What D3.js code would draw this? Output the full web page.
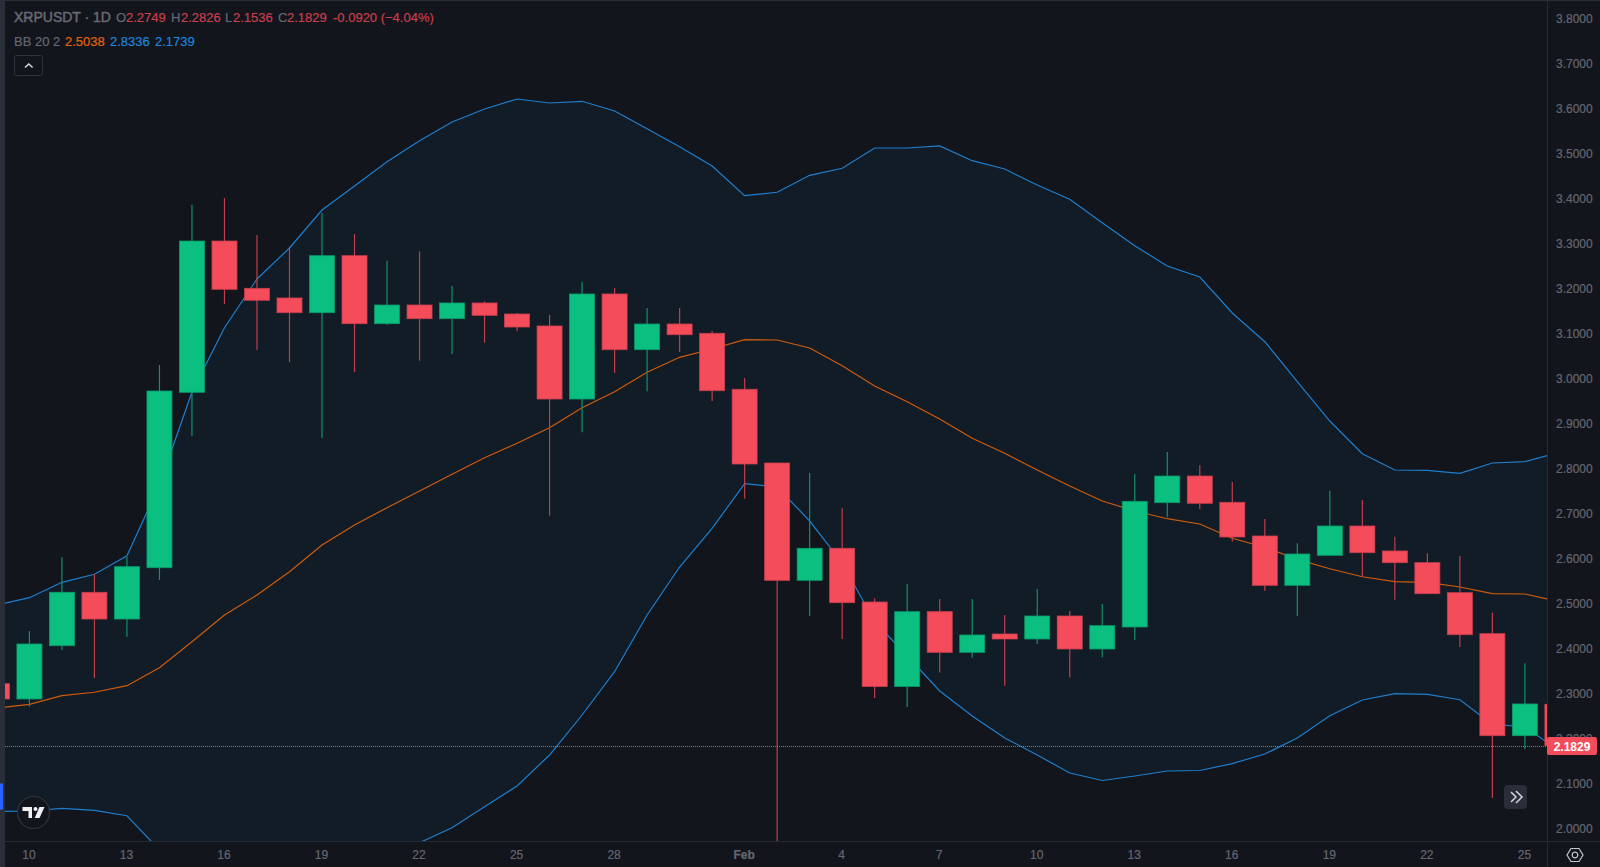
<!DOCTYPE html>
<html>
<head>
<meta charset="utf-8">
<script src="https://cdn.jsdelivr.net/npm/d3@7"></script>
<style>
    html, body { margin: 0; padding: 0; background: #12151c; overflow: hidden; }
    text { font-family: "Liberation Sans", Arial, sans-serif; }
</style>
</head>
<body>
<div id="chart"></div>
<script>
//<data>----------------------------------------//
var firstDay = "2025-01-09", lastDay = "2025-02-26";
var open_ = [2.3207, 2.2867, 2.4051, 2.5238, 2.4644, 2.5784, 2.9682, 3.3044, 3.1993, 3.1778, 3.1451, 3.2718, 3.1207, 3.1622, 3.1318, 3.1667, 3.1422, 3.1156, 2.9533, 3.1867, 3.0629, 3.12, 3.0993,
    2.9749, 2.8111, 2.5504, 2.6216, 2.5022, 2.3144, 2.4807, 2.3904, 2.4311, 2.42, 2.4711, 2.3978, 2.4467, 2.7229, 2.7822, 2.7238, 2.6489, 2.5393, 2.606, 2.6711, 2.6156, 2.5896, 2.5229, 2.4318, 2.2051, 2.2749];
var high = [2.33, 2.4378, 2.6016, 2.5644, 2.6029, 3.0289, 3.3851, 3.4, 3.3178, 3.2918, 3.3667, 3.32, 3.2607, 3.2816, 3.2044, 3.1704, 3.1444, 3.14, 3.214, 3.2, 3.1556, 3.1556, 3.1044,
    3.0, 2.8111, 2.7889, 2.7104, 2.5104, 2.5422, 2.5089, 2.5089, 2.4733, 2.5311, 2.4822, 2.4978, 2.7867, 2.8356, 2.806, 2.7689, 2.6867, 2.6327, 2.7496, 2.7289, 2.6473, 2.6104, 2.6044, 2.4784, 2.366, 2.2826];
var low = [2.27, 2.2696, 2.3956, 2.3333, 2.4251, 2.5511, 2.8711, 3.1644, 3.0622, 3.0356, 2.8667, 3.0133, 3.1178, 3.0384, 3.0533, 3.0784, 3.1044, 2.694, 2.8793, 3.0111, 2.9704, 3.0578, 2.9489,
    2.7322, 1.95, 2.4711, 2.42, 2.2889, 2.2689, 2.3456, 2.3784, 2.3162, 2.4089, 2.3344, 2.3793, 2.4178, 2.6904, 2.7082, 2.6362, 2.5267, 2.4711, 2.606, 2.5584, 2.5073, 2.5207, 2.4022, 2.0667, 2.1749, 2.1536];
var close_ = [2.2867, 2.4089, 2.5238, 2.4644, 2.5807, 2.9711, 3.3044, 3.1971, 3.1727, 3.1451, 3.2718, 3.1207, 3.1622, 3.1318, 3.1667, 3.1393, 3.1133, 2.9533, 3.1867, 3.0629, 3.12, 3.0962, 2.9718,
    2.8089, 2.5504, 2.6216, 2.5007, 2.3144, 2.4807, 2.3904, 2.4289, 2.42, 2.4711, 2.3978, 2.4496, 2.726, 2.7822, 2.7216, 2.6467, 2.5393, 2.6089, 2.6711, 2.6118, 2.5896, 2.5207, 2.4296, 2.2051, 2.2756, 2.1829];
var bbUpper = [2.4956, 2.5118, 2.546, 2.5638, 2.6051, 2.7622, 2.9689, 3.1118, 3.22, 3.2889, 3.3733, 3.4267, 3.4807, 3.5273, 3.5689, 3.5978, 3.62, 3.6111, 3.6149, 3.5933, 3.554, 3.514, 3.4711,
    3.4051, 3.4127, 3.4504, 3.466, 3.5111, 3.5111, 3.5156, 3.4829, 3.4644, 3.4289, 3.3971, 3.3451, 3.294, 3.2489, 3.2244, 3.1444, 3.0807, 2.9918, 2.9044, 2.8318, 2.7956, 2.7949, 2.7882, 2.8111, 2.814, 2.8336];
var bbBasis = [2.2667, 2.2749, 2.294, 2.3016, 2.3162, 2.3562, 2.414, 2.4733, 2.5178, 2.5696, 2.6289, 2.6733, 2.7118, 2.7489, 2.786, 2.8229, 2.8549, 2.8896, 2.934, 2.9696, 3.0127, 3.046, 3.0644,
    3.0851, 3.0844, 3.0667, 3.0273, 2.9822, 2.9473, 2.9089, 2.866, 2.8327, 2.7956, 2.76, 2.7267, 2.7044, 2.6873, 2.6756, 2.6438, 2.6238, 2.5971, 2.5762, 2.5584, 2.5473, 2.546, 2.5356, 2.5207, 2.52, 2.5038];
var bbLower = [2.0367, 2.0378, 2.0438, 2.0393, 2.0273, 1.9511, 1.86, 1.8356, 1.8156, 1.8511, 1.8844, 1.92, 1.9422, 1.9673, 2.0007, 2.0473, 2.0933, 2.1622, 2.2511, 2.3473, 2.4733, 2.58, 2.666,
    2.7651, 2.7578, 2.6822, 2.5889, 2.4584, 2.3822, 2.3044, 2.2489, 2.2, 2.1622, 2.1222, 2.1056, 2.1156, 2.1267, 2.1278, 2.1431, 2.1644, 2.2, 2.2496, 2.2844, 2.2984, 2.2971, 2.2851, 2.23, 2.2251, 2.1739];
var priceTicks = [3.8, 3.7, 3.6, 3.5, 3.4, 3.3, 3.2, 3.1, 3.0, 2.9, 2.8, 2.7, 2.6, 2.5, 2.4, 2.3, 2.2, 2.1, 2.0];
var dateTicks = ["2025-01-10", "2025-01-13", "2025-01-16", "2025-01-19", "2025-01-22", "2025-01-25", "2025-01-28", "2025-02-01",
    "2025-02-04", "2025-02-07", "2025-02-10", "2025-02-13", "2025-02-16", "2025-02-19", "2025-02-22", "2025-02-25"];
var lastPrice = 2.1829;
//<setMargin>-----------------------------------//
var W = 1600, H = 867;
var plot = { left: 5, right: 1547, top: 1, bottom: 841 };
var bodyW = 25;
var colorUp = "#0bbf80", colorDown = "#f44c5b", wickUp = "#12906b", wickDown = "#c13e4c";
var colorBg = "#12151c", colorLine = "#262a34", colorText = "#646771";

var parseDay = d3.utcParse("%Y-%m-%d");
var days = d3.utcDay.range(parseDay(firstDay), d3.utcDay.offset(parseDay(lastDay), 1));
var candles = days.map(function (d, i) {
    return { date: d, o: open_[i], h: high[i], l: low[i], c: close_[i], up: bbUpper[i], mid: bbBasis[i], low: bbLower[i] };
});

var x = d3.scaleUtc().domain([days[0], days[days.length - 1]]).range([-3.1, 1557.4]);
var y = d3.scaleLinear().domain([2, 3.8]).range([828, 18]);

var svg = d3.select("#chart").append("svg").attr("width", W).attr("height", H).style("display", "block");
svg.append("rect").attr("width", W).attr("height", H).attr("fill", colorBg);
svg.append("clipPath").attr("id", "plotClip").append("rect")
    .attr("x", plot.left).attr("y", plot.top)
    .attr("width", plot.right - plot.left).attr("height", plot.bottom - plot.top);

var groupPlot = svg.append("g").attr("clip-path", "url(#plotClip)");

//<grid>----------------------------------------//
groupPlot.selectAll(".gridY").data(priceTicks).enter().append("line")
    .attr("x1", plot.left).attr("x2", plot.right)
    .attr("y1", function (d) { return y(d); }).attr("y2", function (d) { return y(d); })
    .attr("stroke", "#fff").attr("stroke-opacity", 0.012);
groupPlot.selectAll(".gridX").data(dateTicks).enter().append("line")
    .attr("y1", plot.top).attr("y2", plot.bottom)
    .attr("x1", function (d) { return x(parseDay(d)); }).attr("x2", function (d) { return x(parseDay(d)); })
    .attr("stroke", "#fff").attr("stroke-opacity", 0.012);

//<bollinger>-----------------------------------//
var band = d3.area().x(function (d) { return x(d.date); })
    .y0(function (d) { return y(d.low); }).y1(function (d) { return y(d.up); });
groupPlot.append("path").datum(candles).attr("d", band).attr("fill", "#121c26");

function bbLine(key, color) {
    var line = d3.line().x(function (d) { return x(d.date); }).y(function (d) { return y(d[key]); });
    groupPlot.append("path").datum(candles).attr("d", line)
        .attr("fill", "none").attr("stroke", color).attr("stroke-width", 1.2);
}
bbLine("up", "#1f7fcf");
bbLine("low", "#1f7fcf");
bbLine("mid", "#cf5c0c");

//<candles>-------------------------------------//
var groupCandle = groupPlot.selectAll(".candle").data(candles).enter().append("g");
groupCandle.append("line")
    .attr("x1", function (d) { return x(d.date); }).attr("x2", function (d) { return x(d.date); })
    .attr("y1", function (d) { return y(d.h); }).attr("y2", function (d) { return y(d.l); })
    .attr("stroke", function (d) { return d.c >= d.o ? wickUp : wickDown; })
    .attr("stroke-width", 1.2);
groupCandle.append("rect")
    .attr("x", function (d) { return x(d.date) - bodyW / 2; })
    .attr("y", function (d) { return y(Math.max(d.o, d.c)); })
    .attr("width", bodyW)
    .attr("height", function (d) { return Math.abs(y(d.o) - y(d.c)); })
    .attr("fill", function (d) { return d.c >= d.o ? colorUp : colorDown; })
    .attr("stroke", function (d) { return d.c >= d.o ? "#0a9a6b" : "#c9404e"; })
    .attr("stroke-width", 0.8);

//<last price line>-----------------------------//
var lastY = Math.round(y(lastPrice)) + 0.5;
groupPlot.append("line")
    .attr("x1", plot.left).attr("x2", plot.right)
    .attr("y1", lastY).attr("y2", lastY)
    .attr("stroke", "#f44c5b").attr("stroke-width", 1).attr("stroke-dasharray", "1 1");

//<frame>---------------------------------------//
svg.append("rect").attr("x", 0).attr("y", 0).attr("width", plot.left).attr("height", H).attr("fill", "#2a2e39");
svg.append("rect").attr("x", 0).attr("y", 0).attr("width", W).attr("height", 1).attr("fill", "#2a2e39");
svg.append("rect").attr("x", 0).attr("y", 783).attr("width", 3).attr("height", 27).attr("rx", 1.5).attr("fill", "#2962ff");
svg.append("line").attr("x1", plot.right + 0.5).attr("x2", plot.right + 0.5).attr("y1", 1).attr("y2", H).attr("stroke", colorLine);
svg.append("line").attr("x1", plot.left).attr("x2", W).attr("y1", plot.bottom + 0.5).attr("y2", plot.bottom + 0.5).attr("stroke", colorLine);

//<axes>----------------------------------------//
var axisY = d3.axisRight(y).tickValues(priceTicks).tickSize(0).tickPadding(0).tickFormat(d3.format(".4f"));
var gy = svg.append("g").attr("transform", "translate(1556,0.5)").call(axisY);
gy.select(".domain").remove();
gy.selectAll("text").attr("fill", colorText).attr("stroke", colorText).attr("stroke-width", 0.2).style("font-size", "12px");

var axisX = d3.axisBottom(x).tickValues(dateTicks.map(parseDay)).tickSize(0).tickPadding(0)
    .tickFormat(function (d) { return d.getUTCDate() == 1 ? d3.utcFormat("%b")(d) : d.getUTCDate(); });
var gx = svg.append("g").attr("transform", "translate(-1,850.5)").call(axisX);
gx.select(".domain").remove();
gx.selectAll("text").attr("fill", colorText).attr("stroke", colorText).attr("stroke-width", 0.2).style("font-size", "12px")
    .style("font-weight", function (d) { return d.getUTCDate() == 1 ? "bold" : "normal"; });

//<last price label>----------------------------//
svg.append("rect").attr("x", plot.right).attr("y", lastY - 9.5).attr("width", 50).attr("height", 18).attr("rx", 2).attr("fill", "#f44c5b");
svg.append("text").attr("x", 1572).attr("y", lastY + 4).attr("text-anchor", "middle")
    .attr("fill", "#fff").style("font-size", "12px").style("font-weight", "bold").text(d3.format(".4f")(lastPrice));

//<legend>--------------------------------------//
var gray = "#666973", red = "#c93f4c", orange = "#e0640f", blue = "#1f86d8";
var legend = [
    ["XRPUSDT \u00b7 1D", 14, 22, gray, 14],
    ["O", 116, 22, gray, 13], ["2.2749", 126, 22, red, 13],
    ["H", 171, 22, gray, 13], ["2.2826", 181, 22, red, 13],
    ["L", 225, 22, gray, 13], ["2.1536", 233, 22, red, 13],
    ["C", 278, 22, gray, 13], ["2.1829", 287, 22, red, 13],
    ["-0.0920 (\u22124.04%)", 333, 22, red, 13],
    ["BB 20 2", 14, 46, gray, 13],
    ["2.5038", 65, 46, orange, 13], ["2.8336", 110, 46, blue, 13], ["2.1739", 155, 46, blue, 13]
];
svg.selectAll(".legendText").data(legend).enter().append("text")
    .attr("x", function (d) { return d[1]; }).attr("y", function (d) { return d[2]; })
    .attr("fill", function (d) { return d[3]; })
    .attr("stroke", function (d) { return d[3]; }).attr("stroke-width", function (d) { return d[4] == 14 ? 0.5 : 0.2; })
    .style("font-size", function (d) { return d[4] + "px"; })
    .text(function (d) { return d[0]; });

//<buttons>-------------------------------------//
svg.append("rect").attr("x", 14.5).attr("y", 55.5).attr("width", 28).attr("height", 20).attr("rx", 2)
    .attr("fill", colorBg).attr("stroke", "#2f333e");
svg.append("path").attr("d", "M25 67.5 L28.8 64 L32.6 67.5").attr("fill", "none").attr("stroke", "#d6d8de").attr("stroke-width", 1.5);

// logo
var logo = svg.append("g").attr("transform", "translate(33.5,812.5)");
logo.append("circle").attr("r", 16).attr("fill", colorBg).attr("stroke", "#2f333e").attr("stroke-width", 1.2);
logo.append("path").attr("d", "M-11 -5.5 H-1.5 V5.5 H-5 V-1.5 H-11 Z").attr("fill", "#f0f1f4");
logo.append("circle").attr("cx", 2).attr("cy", -3.5).attr("r", 2).attr("fill", "#f0f1f4");
logo.append("path").attr("d", "M6 -5.5 H11 L6 5.5 H1.2 Z").attr("fill", "#f0f1f4");

// scroll to latest
svg.append("rect").attr("x", 1504).attr("y", 785).attr("width", 23).attr("height", 24).attr("rx", 4).attr("fill", "#2a2e39");
svg.append("path").attr("d", "M1511 792 L1516 797 L1511 802 M1516 791 L1522 797 L1516 803").attr("fill", "none").attr("stroke", "#d1d4dc").attr("stroke-width", 1.5);

// settings
var gear = svg.append("g").attr("transform", "translate(1575,855)");
gear.append("path").attr("d", "M-8 0 L-4 -6.5 H4 L8 0 L4 6.5 H-4 Z").attr("fill", "none").attr("stroke", "#c4c7cf").attr("stroke-width", 1.2);
gear.append("circle").attr("r", 2.8).attr("fill", "none").attr("stroke", "#c4c7cf").attr("stroke-width", 1.2);
</script>
</body>
</html>
